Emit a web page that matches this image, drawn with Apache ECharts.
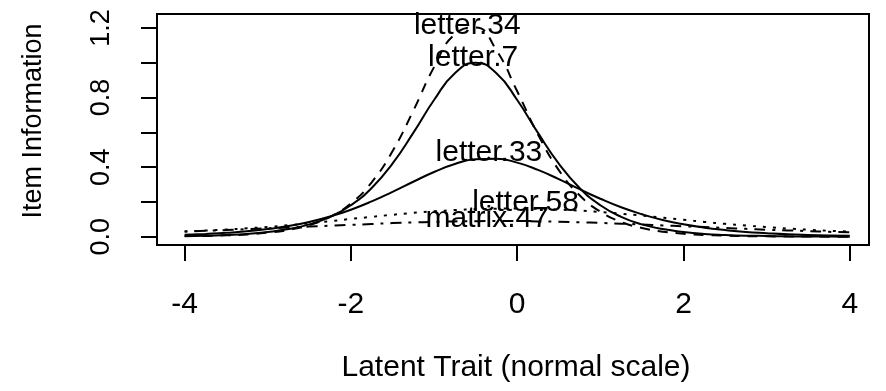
<!DOCTYPE html>
<html>
<head>
<meta charset="utf-8">
<script src="https://cdn.jsdelivr.net/npm/echarts/dist/echarts.min.js"></script>
<style>
html,body{margin:0;padding:0;background:#fff;}
#chart{width:886px;height:391px;}
</style>
</head>
<body>
<div id="chart"></div>
<script>
// ---- data ----
const theta = [-4,-3.75,-3.5,-3.25,-3,-2.75,-2.5,-2.25,-2,-1.75,-1.5,-1.25,-1,-0.75,-0.5,-0.25,0,0.25,0.5,0.75,1,1.25,1.5,1.75,2,2.25,2.5,2.75,3,3.25,3.5,3.75,4];
const letter7 = [0.004,0.006,0.010,0.016,0.027,0.044,0.071,0.114,0.181,0.280,0.420,0.597,0.786,0.940,1.000,0.940,0.786,0.597,0.420,0.280,0.181,0.114,0.071,0.044,0.027,0.016,0.010,0.006,0.004,0.002,0.001,0.001,0.000];
const letter33 = [0.011,0.016,0.022,0.031,0.044,0.061,0.085,0.116,0.155,0.203,0.258,0.316,0.372,0.418,0.445,0.448,0.426,0.384,0.331,0.273,0.218,0.169,0.129,0.096,0.071,0.052,0.038,0.027,0.020,0.014,0.010,0.007,0.005];
const letter34 = [0.003,0.004,0.008,0.013,0.023,0.039,0.067,0.114,0.191,0.313,0.491,0.724,0.975,1.164,1.203,1.072,0.836,0.588,0.383,0.238,0.144,0.085,0.050,0.029,0.017,0.010,0.006,0.003,0.002,0.001,0.001,0.000,0.000];
const letter58 = [0.030,0.035,0.041,0.048,0.056,0.066,0.077,0.089,0.102,0.114,0.126,0.137,0.146,0.153,0.158,0.161,0.162,0.160,0.156,0.150,0.142,0.132,0.121,0.109,0.097,0.085,0.074,0.064,0.055,0.047,0.040,0.034,0.029];
const matrix47 = [0.030,0.034,0.038,0.043,0.048,0.053,0.058,0.063,0.068,0.073,0.078,0.082,0.085,0.088,0.089,0.090,0.090,0.088,0.086,0.083,0.079,0.075,0.070,0.065,0.060,0.055,0.050,0.045,0.040,0.036,0.032,0.028,0.025];

const labelNames = ['letter.34','letter.7','letter.33','letter.58','matrix.47'];
const labelTheta = [-0.60,-0.53,-0.34,0.10,-0.36];
const labelInfo = [1.214,1.03,0.48,0.194,0.106];

const xTicks = [-4,-2,0,2,4];
const yTicks = [0,0.2,0.4,0.6,0.8,1.0,1.2];
const yTickLabels = [0,0.4,0.8,1.2];
const xTitle = 'Latent Trait (normal scale)';
const yTitle = 'Item Information';

// ---- chart ----
const FONT = 'Liberation Sans, Arial, Helvetica, sans-serif';
const FSH = 30;   // horizontal text
const FSV = 27;   // vertical text
const chart = echarts.init(document.getElementById('chart'), null, {renderer:'canvas'});

function pairs(ys){ return theta.map((t,i)=>[t, ys[i]]); }
function curve(name, ys, dash){
  return {
    name: name, type:'line', data: pairs(ys), smooth: true, showSymbol:false,
    symbol:'none', silent:true,
    lineStyle:{color:'#000', width:2, type: dash, cap:'butt'}
  };
}

const option = {
  animation:false,
  backgroundColor:'#fff',
  grid:{left:157, top:14, width:712, height:231, show:true, borderColor:'#000', borderWidth:2, backgroundColor:'transparent'},
  xAxis:{
    type:'value', min:-4.332, max:4.231, position:'bottom',
    axisLine:{show:false, onZero:false},
    axisTick:{show:true, customValues:xTicks, length:16, inside:false, lineStyle:{color:'#000', width:2}},
    axisLabel:{show:true, customValues:xTicks, margin:45, color:'#000', fontSize:FSH, fontFamily:FONT,
      formatter:(v)=>String(v)},
    splitLine:{show:false}
  },
  yAxis:{
    type:'value', min:-0.0478, max:1.2806, position:'left',
    axisLine:{show:false, onZero:false},
    axisTick:{show:true, customValues:yTicks, length:16, inside:false, lineStyle:{color:'#000', width:2}},
    axisLabel:{show:true, customValues:yTickLabels, rotate:90, margin:42, color:'#000', fontSize:FSV, fontFamily:FONT,
      formatter:(v)=>Number(v).toFixed(1)},
    splitLine:{show:false}
  },
  graphic:[
    {type:'text', x:516, y:368, style:{text:xTitle, fill:'#000', font:FSH+'px '+FONT, textAlign:'center', textVerticalAlign:'middle'}},
    {type:'text', x:33.5, y:121, rotation:Math.PI/2, style:{text:yTitle, fill:'#000', font:FSV+'px '+FONT, textAlign:'center', textVerticalAlign:'middle'}}
  ],
  series:[
    curve('letter.7', letter7, 'solid'),
    curve('letter.33', letter33, 'solid'),
    curve('letter.34', letter34, [10,8]),
    curve('letter.58', letter58, [3,7]),
    curve('matrix.47', matrix47, [3,7,11,7]),
    {
      type:'scatter', silent:true, z:5,
      data: labelNames.map((n,i)=>({value:[labelTheta[i], labelInfo[i]], name:n})),
      symbol:'circle', symbolSize:0, itemStyle:{color:'#000', opacity:1},
      label:{show:true, position:'inside', formatter:'{b}', color:'#000', textBorderWidth:0, fontSize:FSH, fontFamily:FONT}
    }
  ]
};
chart.setOption(option);
</script>
</body>
</html>
